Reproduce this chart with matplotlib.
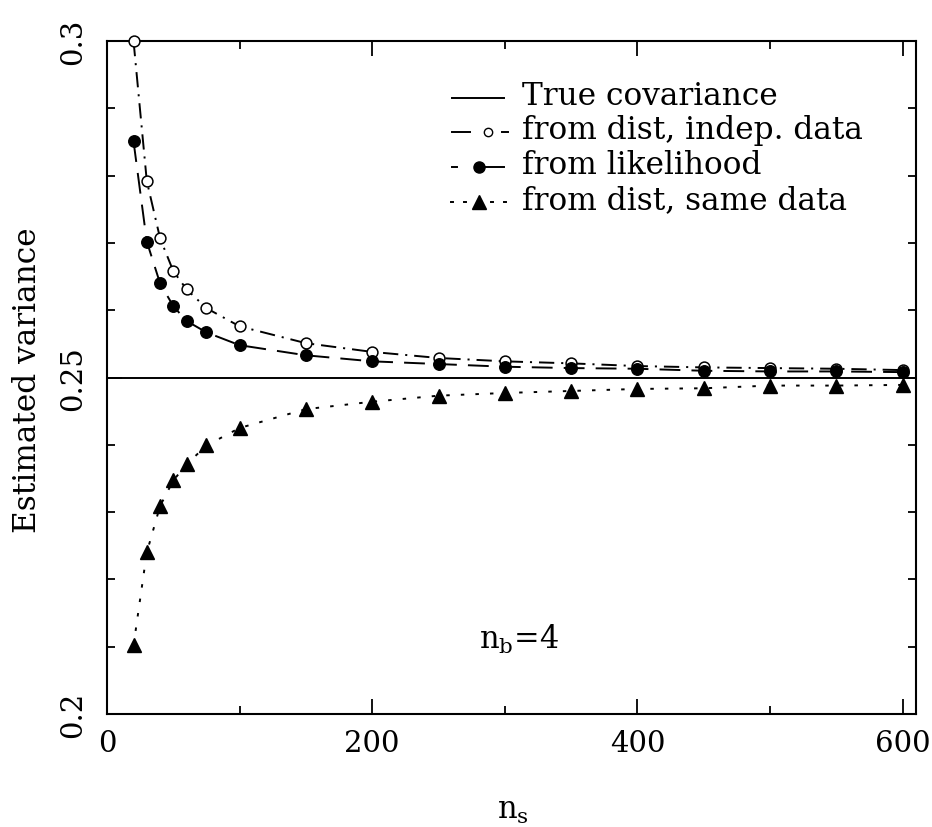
import matplotlib
matplotlib.use("Agg")
import matplotlib.pyplot as plt
from matplotlib.lines import Line2D
from matplotlib.ticker import MultipleLocator, FixedLocator

plt.rcParams['font.family'] = ['DejaVu Serif']
plt.rcParams['mathtext.fontset'] = 'dejavuserif'
plt.rcParams['lines.scale_dashes'] = False

# Number of simulations n_s
ns = [20, 30, 40, 50, 60, 75, 100, 150, 200, 250, 300, 350, 400, 450, 500, 550, 600]

# Variance estimates
var_indep = [0.3000, 0.2792, 0.2707, 0.2658, 0.2631, 0.2603, 0.2576, 0.2551, 0.2538,
             0.2529, 0.2524, 0.2521, 0.2517, 0.2515, 0.2514, 0.2513, 0.2511]
var_like = [0.2851, 0.2702, 0.2640, 0.2606, 0.2584, 0.2567, 0.2548, 0.2533, 0.2524,
            0.2520, 0.2516, 0.2514, 0.2513, 0.2510, 0.2509, 0.2509, 0.2508]
var_same = [0.2102, 0.2240, 0.2309, 0.2347, 0.2371, 0.2399, 0.2425, 0.2453, 0.2464,
            0.2473, 0.2477, 0.2480, 0.2483, 0.2484, 0.2488, 0.2488, 0.2489]
true_var = 0.25

x_ticks = [0, 200, 400, 600]
x_tick_labels = ['0', '200', '400', '600']
y_ticks = [0.2, 0.25, 0.3]
y_tick_labels = ['0.2', '0.25', '0.3']

legend_labels = ['True covariance', 'from dist, indep. data',
                 'from likelihood', 'from dist, same data']

W, H = 932, 828
fig = plt.figure(figsize=(W / 100, H / 100), dpi=100)
ax = fig.add_axes([107 / W, 1 - 715 / H, (916 - 107) / W, (715 - 42) / H])

FS = 21
FS_TEXT = 22.5
LW = 1.4

def fx(px):
    return px / W

def fy(py):
    return 1 - py / H

ax.axhline(true_var, color='black', lw=LW, zorder=2)
ax.plot(ns, var_indep, color='black', lw=LW, dashes=[11, 5, 1.5, 5], zorder=2)
ax.plot(ns, var_like, color='black', lw=LW, dashes=[15, 8], zorder=2)
ax.plot(ns, var_same, color='black', lw=LW, dashes=[2.5, 8], zorder=2)

ax.plot(ns, var_indep, ls='none', marker='o', ms=7.8, mfc='white', mec='black',
        mew=1.1, zorder=3, clip_on=False)
ax.plot(ns, var_like, ls='none', marker='o', ms=8.3, mfc='black', mec='black',
        zorder=4, clip_on=False)
ax.plot(ns, var_same, ls='none', marker='^', ms=9.8, mfc='black', mec='black',
        zorder=4, clip_on=False)

ax.set_xlim(0, 610)
ax.set_ylim(0.2, 0.3)

ax.xaxis.set_major_locator(FixedLocator(x_ticks))
ax.set_xticklabels(x_tick_labels)
ax.xaxis.set_minor_locator(MultipleLocator(100))
ax.yaxis.set_major_locator(FixedLocator(y_ticks))
ax.set_yticklabels(y_tick_labels, rotation=90, va='center')
ax.yaxis.set_minor_locator(MultipleLocator(0.01))

ax.tick_params(which='both', direction='in', top=True, right=True, width=1.3,
               labelsize=FS)
ax.tick_params(which='major', length=11)
ax.tick_params(which='minor', length=6)
ax.tick_params(axis='x', which='major', pad=11)
ax.tick_params(axis='y', which='major', pad=14)
for s in ax.spines.values():
    s.set_linewidth(1.5)

# Axis titles
fig.text(fx(28), fy(380), 'Estimated variance', rotation=90, ha='center',
         va='center', fontsize=FS_TEXT)
fig.text(fx(497), fy(819), r'n$_{\mathregular{s}}$', ha='left', va='baseline',
         fontsize=22)
fig.text(fx(479), fy(649), r'n$_{\mathregular{b}}$=4', ha='left', va='baseline',
         fontsize=22)

# Key
rows = [99, 133, 168, 203]

def seg(x0, x1, y):
    fig.add_artist(Line2D([fx(x0), fx(x1)], [fy(y), fy(y)], color='black',
                          lw=LW, transform=fig.transFigure))

def mark(x, y, **kw):
    fig.add_artist(Line2D([fx(x)], [fy(y)], ls='none', color='black',
                          transform=fig.transFigure, **kw))

seg(452, 504, rows[0])
seg(452, 470, rows[1])
mark(488, rows[1], marker='o', ms=6.0, mfc='white', mec='black', mew=1.0)
seg(502, 508, rows[1])
seg(452, 457, rows[2])
seg(479, 504, rows[2])
mark(479, rows[2], marker='o', ms=8.0, mfc='black', mec='black')
for xd in (451, 464, 491, 504):
    seg(xd, xd + 2, rows[3])
mark(479, rows[3], marker='^', ms=10.5, mfc='black', mec='black')

for y, lab in zip(rows, legend_labels):
    fig.text(fx(522), fy(y + 6), lab, ha='left', va='baseline', fontsize=FS_TEXT)

fig.savefig('out.png', dpi=100)
